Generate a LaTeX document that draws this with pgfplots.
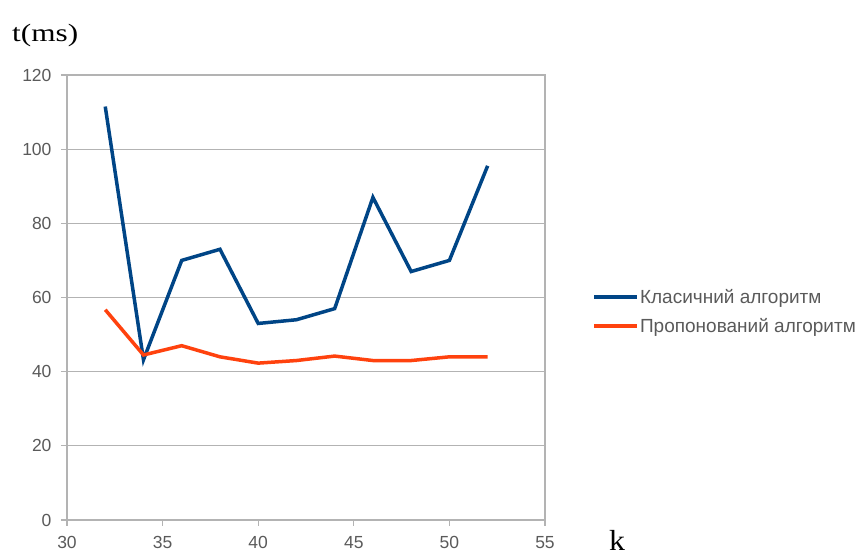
\documentclass[border=0pt]{standalone}
\usepackage{fontspec}
\setmainfont{Liberation Sans}
\newfontfamily\serifx{Liberation Serif}
\usepackage{pgfplots}
\pgfplotsset{compat=1.18}
\definecolor{cblue}{RGB}{0,69,134}
\definecolor{corange}{RGB}{255,66,14}
\definecolor{cgrid}{RGB}{179,179,179}
\definecolor{ctick}{RGB}{90,90,90}
\begin{document}
\begin{tikzpicture}[x=1pt,y=1pt]
\path[use as bounding box] (0,0) rectangle (863,556);
\begin{axis}[
  at={(67pt,36pt)}, anchor=south west,
  scale only axis, width=478pt, height=445pt,
  xmin=30, xmax=55, ymin=0, ymax=120,
  xtick={30,35,...,55}, ytick={0,20,...,120},
  ymajorgrids, grid style={cgrid, line width=1.3pt},
  axis line style={cgrid, line width=1.3pt},
  tick style={cgrid, line width=1.3pt},
  tick align=outside, major tick length=6pt,
  xtick pos=bottom, ytick pos=left,
  /pgf/number format/assume math mode=true,
  ticklabel style={font=\fontsize{17.5}{19}\selectfont, text=ctick},
  xticklabel style={yshift=-7pt},
  yticklabel style={xshift=-6pt},
  legend style={draw=none, fill=none, at={(1.098,0.4685)}, anchor=west,
    font=\fontsize{19}{20}\selectfont, text=ctick, row sep=12pt,
    inner sep=0pt, nodes={inner sep=1pt}},
  legend cell align=left,
  legend image code/.code={\draw[#1, line width=4pt] (0pt,0pt) -- (43pt,0pt);},
]
\addplot[cblue, line width=3.5pt] coordinates {
 (32,111.5) (34,43.2) (36,70) (38,73) (40,53) (42,54) (44,57) (46,87) (48,67) (50,70) (52,95.5)};
\addlegendentry{Класичний алгоритм}
\addplot[corange, line width=3.5pt] coordinates {
 (32,56.7) (34,44.5) (36,47) (38,44) (40,42.3) (42,43) (44,44.2) (46,43) (48,43) (50,44) (52,44)};
\addlegendentry{Пропонований алгоритм}
\end{axis}
\node[anchor=west, font=\serifx\fontsize{25}{27}\selectfont, inner sep=0pt, xscale=1.25] at (12,521) {t(ms)};
\node[anchor=south, font=\serifx\fontsize{29}{31}\selectfont, inner sep=0pt, xscale=1.1] at (617,5) {k};
\end{tikzpicture}
\end{document}
